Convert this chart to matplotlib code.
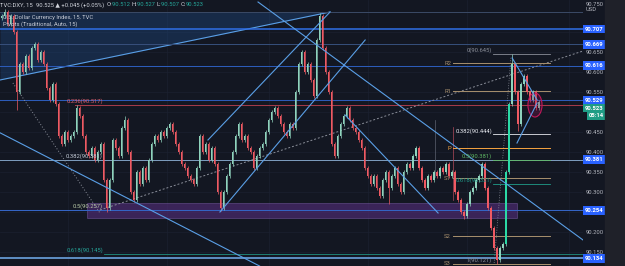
import matplotlib
matplotlib.use("Agg")
import matplotlib.pyplot as plt
from matplotlib.patches import Rectangle, Ellipse
import numpy as np

plt.rcParams['font.family'] = ['Roboto', 'DejaVu Sans']

# --- data (15m candles, closes) ---
first_open = 90.735
closes = [
    90.740, 90.750, 90.720, 90.740, 90.700, 90.550, 90.620, 90.600, 90.640, 90.610,
    90.660, 90.670, 90.630, 90.650, 90.620, 90.560, 90.530, 90.570, 90.520, 90.440,
    90.420, 90.450, 90.430, 90.440, 90.450, 90.510, 90.490, 90.440, 90.400, 90.390,
    90.410, 90.380, 90.400, 90.420, 90.330, 90.260, 90.330, 90.430, 90.410, 90.390,
    90.460, 90.480, 90.400, 90.300, 90.280, 90.350, 90.320, 90.360, 90.330, 90.380,
    90.420, 90.440, 90.430, 90.450, 90.440, 90.460, 90.470, 90.450, 90.420, 90.400,
    90.370, 90.360, 90.340, 90.330, 90.320, 90.360, 90.440, 90.400, 90.420, 90.380,
    90.410, 90.370, 90.300, 90.260, 90.300, 90.340, 90.370, 90.400, 90.440, 90.470,
    90.430, 90.440, 90.410, 90.400, 90.360, 90.390, 90.410, 90.420, 90.450, 90.480,
    90.500, 90.510, 90.490, 90.470, 90.450, 90.440, 90.470, 90.460, 90.550, 90.620,
    90.650, 90.600, 90.620, 90.580, 90.540, 90.680, 90.740, 90.660, 90.600, 90.550,
    90.420, 90.390, 90.440, 90.470, 90.490, 90.510, 90.480, 90.460, 90.450, 90.430,
    90.410, 90.360, 90.340, 90.320, 90.340, 90.310, 90.290, 90.330, 90.350, 90.310,
    90.340, 90.360, 90.320, 90.300, 90.350, 90.370, 90.360, 90.390, 90.410, 90.360,
    90.330, 90.310, 90.340, 90.330, 90.350, 90.340, 90.360, 90.350, 90.370, 90.340,
    90.350, 90.300, 90.280, 90.250, 90.240, 90.270, 90.300, 90.310, 90.330, 90.340,
    90.370, 90.310, 90.260, 90.210, 90.160, 90.130, 90.160, 90.170, 90.350, 90.520,
    90.620, 90.550, 90.470, 90.570, 90.590, 90.550, 90.530, 90.550, 90.510, 90.525,
]
wick_high = {1: 90.758, 25: 90.518, 41: 90.490, 106: 90.748, 170: 90.645}
wick_low = {5: 90.505, 35: 90.250, 73: 90.252, 129: 90.270, 154: 90.232, 165: 90.121, 172: 90.452}

grid_prices = [90.15, 90.20, 90.25, 90.30, 90.35, 90.40, 90.45, 90.50, 90.55, 90.60, 90.65, 90.70, 90.75]
tick_prices = [90.15, 90.20, 90.30, 90.35, 90.40, 90.45, 90.55, 90.60, 90.65]
level_prices = [90.707, 90.669, 90.616, 90.529, 90.381, 90.254, 90.134]
level_colors = ['#2f6fe6', '#37507c', '#2c5bb8', '#2c5bb8', '#7f9fc0', '#3464c4', '#5f8fc4']
level_widths = [1.1, 0.7, 0.75, 0.75, 0.7, 0.75, 1.4]

fib_left_levels = [90.517, 90.381, 90.255, 90.145]
fib_left_labels = ['0.236(90.517)', '0.382(90.381)', '0.5(90.257)', '0.618(90.145)']
fib_left_colors = ['#e0606e', '#c3cad6', '#b7c9a6', '#26a69a']

fib_right_levels = [90.645, 90.444, 90.381, 90.321, 90.121]
fib_right_labels = ['0(90.645)', '0.382(90.444)', '0.5(90.381)', '0.618(90.321)', '1(90.121)']
fib_right_colors = ['#8a8e99', '#e6e8ee', '#5fb865', '#1f9c8a', '#8a8e99']

pivot_names = ['R2', 'R1', 'P', 'S1', 'S2', 'S3']
pivot_levels = [90.622, 90.552, 90.410, 90.335, 90.190, 90.120]

trendlines = [
    ((-0.5, 90.448), (86.0, 90.115)),
    ((85.5, 90.775), (193.8, 90.180)),
    ((68.8, 90.430), (109.5, 90.750)),
    ((72.8, 90.250), (121.2, 90.680)),
    ((114.5, 90.4925), (145.5, 90.2475)),
    ((170.2, 90.635), (178.5, 90.530)),
    ((171.8, 90.4225), (178.5, 90.5225)),
]

BG = '#131722'
BULL = '#8fd3bd'
BEAR = '#ef5a63'

fig = plt.figure(figsize=(6.25, 2.66), dpi=100, facecolor=BG)
ax = fig.add_axes([0, 0, 583 / 625, 1])
ax.set_facecolor(BG)
fig.patches.append(Rectangle((605 / 625, 0), 20 / 625, 1, transform=fig.transFigure,
                             color='#1f2129', zorder=0))

ax.set_xlim(-0.5, 193.8)
ax.set_ylim(90.115, 90.78)

# grid
for p in grid_prices:
    ax.axhline(p, color='#1b2030', lw=0.5, zorder=0)
for gx in [22, 55, 89, 122, 155, 189]:
    ax.axvline(gx, color='#1b2030', lw=0.5, zorder=0)

# shaded top-left triangle
tx = np.array([-0.5, 109.5])
ax.fill_between(tx, [90.58, 90.75], [90.75, 90.75], color='#1f4f8f', alpha=0.35, lw=0, zorder=1)
ax.plot(tx, [90.58, 90.75], color='#5a9fe6', lw=0.8, zorder=2)

# purple zone
ax.add_patch(Rectangle((28.5, 90.235), 143.3, 0.0375, facecolor='#5b2f86', alpha=0.55,
                       edgecolor='#8a6ab8', lw=0.5, zorder=1))

# horizontal levels
ax.axhline(90.750, color='#3b4a66', lw=0.7, zorder=2)
for p, c, w in zip(level_prices, level_colors, level_widths):
    ax.axhline(p, color=c, lw=w, zorder=2)
ax.plot([24.5, 193.8], [90.517, 90.517], color='#a33a48', lw=0.75, zorder=2)
ax.plot([34.0, 193.8], [90.145, 90.145], color='#1f8f80', lw=0.6, zorder=2)

# dashed / dotted guide lines
ax.plot([32.8, 193.8], [90.255, 90.6525], color='#8a8e99', lw=0.7, ls=(0, (2, 2)), zorder=2)
ax.plot([3.8, 32.8], [90.5725, 90.2475], color='#8a8e99', lw=0.7, ls=(0, (1, 2)), zorder=2)
ax.plot([164.2, 169.8], [90.1225, 90.6375], color='#8a8e99', lw=0.6, ls=(0, (1, 2)), zorder=2)
ax.plot([144.5, 144.5], [90.48, 90.3375], color='#5d6270', lw=0.5, zorder=2)
ax.plot([150.5, 150.5], [90.4625, 90.28], color='#b04a5a', lw=0.5, zorder=2)

# trendlines
for (x0, y0), (x1, y1) in trendlines:
    ax.plot([x0, x1], [y0, y1], color='#5a9fe6', lw=0.8, zorder=4)

# candles
opens = [first_open] + closes[:-1]
xs = np.arange(len(closes))
highs, lows, cols = [], [], []
for i, (o, c) in enumerate(zip(opens, closes)):
    highs.append(wick_high.get(i, max(o, c) + 0.005))
    lows.append(wick_low.get(i, min(o, c) - 0.005))
    cols.append(BULL if c >= o else BEAR)
bottoms = [min(o, c) for o, c in zip(opens, closes)]
heights = [max(abs(c - o), 0.002) for o, c in zip(opens, closes)]
ax.vlines(xs, lows, highs, colors=cols, lw=0.5, zorder=3)
ax.bar(xs, heights, bottom=bottoms, width=0.62, color=cols, lw=0, zorder=3)
ax.bar([168, 169], [0.18, 0.17], bottom=[90.17, 90.35], width=0.62, color='#2bd9a6', lw=0, zorder=3)

# pink ellipse at the end
ax.add_patch(Ellipse((177.8, 90.5175), 4.7, 0.06, facecolor='#880e4f', alpha=0.3,
                     edgecolor='none', zorder=3))
ax.add_patch(Ellipse((177.8, 90.5175), 4.7, 0.06, facecolor='none',
                     edgecolor='#c2185b', lw=0.8, zorder=3))

fs = 4.2
# left fib labels
for p, t, c in zip(fib_left_levels, fib_left_labels, fib_left_colors):
    ax.text(33.8, p + 0.002, t, color=c, fontsize=fs, ha='right', va='bottom', zorder=5)

# right fib
for p, t, c in zip(fib_right_levels, fib_right_labels, fib_right_colors):
    ax.plot([163.8, 182.8], [p, p], color=c, lw=0.6, zorder=2)
    ax.text(163.5, p + 0.002, t, color=c, fontsize=fs, ha='right', va='bottom', zorder=5)

# pivots
for n, p in zip(pivot_names, pivot_levels):
    col = '#f7a440' if n == 'P' else '#a8906e'
    ax.plot([150.5, 182.8], [p, p], color=col, lw=0.7, zorder=2)
    ax.text(149.8, p, n, color=col, fontsize=fs, ha='right', va='center', zorder=5)

# right price scale
ax.yaxis.tick_right()
ax.set_yticks(tick_prices)
ax.set_yticklabels([f'{p:.3f}' for p in tick_prices])
ax.tick_params(axis='y', length=0, pad=2, labelsize=fs, labelcolor='#b2b5be')
ax.set_xticks([])
for s in ax.spines.values():
    s.set_visible(False)
ax.text(1.004, 1 - 4 / 266, '90.750', transform=ax.transAxes, color='#b2b5be',
        fontsize=fs, ha='left', va='center')
ax.text(1.004, 1 - 9.5 / 266, 'USD', transform=ax.transAxes, color='#b2b5be',
        fontsize=fs, ha='left', va='center')

for p in level_prices:
    ax.annotate(f'{p:.3f}', xy=(1, p), xycoords=('axes fraction', 'data'),
                xytext=(1.6, 0), textcoords='offset points', ha='left', va='center',
                fontsize=fs, color='white', fontweight='bold', annotation_clip=False,
                bbox=dict(boxstyle='square,pad=0.3', fc='#2962ff', ec='none'), zorder=6)
for t, off in [('90.523', -3.8), ('05:14', -9.5)]:
    ax.annotate(t, xy=(1, 90.523), xycoords=('axes fraction', 'data'),
                xytext=(1.6 if t != '05:14' else 4.2, off), textcoords='offset points',
                ha='left', va='center', fontsize=fs, color='white', fontweight='bold',
                annotation_clip=False,
                bbox=dict(boxstyle='square,pad=0.3', fc='#1f9c85', ec='none'), zorder=6)

# header text
pieces = [('TVC:DXY, 15  ', '#d1d4dc'), ('90.525 \u25b2 +0.045 (+0.05%)  ', '#d1d4dc'),
          ('O:', '#d1d4dc'), ('90.512 ', '#26a69a'), ('H:', '#d1d4dc'), ('90.527 ', '#26a69a'),
          ('L:', '#d1d4dc'), ('90.507 ', '#26a69a'), ('C:', '#d1d4dc'), ('90.523', '#26a69a')]
prev = ax.text(0.0, 1 - 5 / 266, pieces[0][0], transform=ax.transAxes, color=pieces[0][1],
               fontsize=fs, ha='left', va='center', zorder=7)
for t, c in pieces[1:]:
    prev = ax.annotate(t, xy=(1, 0.5), xycoords=prev, ha='left', va='center',
                       fontsize=fs, color=c, zorder=7)
ax.text(3 / 583, 1 - 17 / 266, 'U.S. Dollar Currency Index, 15, TVC', transform=ax.transAxes,
        color='#c8ccd6', fontsize=fs, ha='left', va='center', zorder=7)
ax.text(3 / 583, 1 - 24 / 266, 'Pivots (Traditional, Auto, 15)', transform=ax.transAxes,
        color='#c8ccd6', fontsize=fs, ha='left', va='center', zorder=7)

fig.savefig('out.png', dpi=100, facecolor=BG)
